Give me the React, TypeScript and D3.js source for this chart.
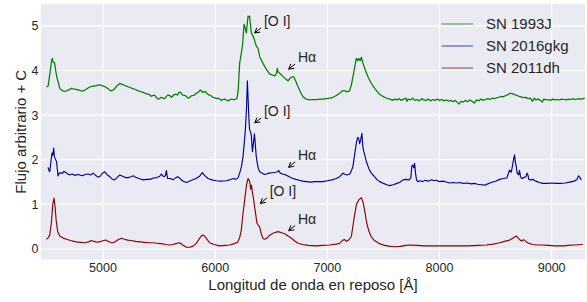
import React from "react";
import * as d3 from "d3";

// ---------- DATA ----------
const xTicks = [5000, 6000, 7000, 8000, 9000];
const yTicks = [0, 1, 2, 3, 4, 5];

const seriesNames = ["SN 1993J", "SN 2016gkg", "SN 2011dh"];
const seriesColors = ["#008000", "#00009c", "#8b0000"];

// SN 1993J (offset +C)
const wave1993J = [
  4496, 4510, 4525, 4540, 4548, 4556, 4568, 4578, 4590, 4603, 4614, 4635, 4659, 4680, 4703, 4720, 4745, 4770, 4800, 4822,
  4850, 4881, 4910, 4940, 4970, 4990, 5015, 5040, 5060, 5075, 5100, 5125, 5149, 5170, 5190, 5208, 5230, 5260, 5283, 5310,
  5335, 5357, 5385,
  5416, 5430, 5445, 5460, 5475, 5490, 5505, 5520, 5535, 5550, 5565, 5580, 5595, 5610, 5622, 5636, 5650, 5662, 5675, 5688,
  5699, 5710, 5720, 5732, 5745, 5760, 5773, 5786, 5800, 5815, 5830, 5843, 5856, 5866, 5877, 5888, 5900, 5912, 5925, 5938,
  5951, 5965, 5980, 5995, 6010, 6025, 6040, 6055, 6070, 6085, 6100, 6115, 6129, 6145, 6160, 6177, 6194,
  6205, 6218, 6233, 6245, 6257, 6268, 6278, 6286,
  6293, 6300, 6307, 6315, 6323, 6346, 6367, 6381, 6397, 6426, 6455, 6486, 6510, 6530, 6545, 6554, 6562, 6575, 6600, 6619,
  6649, 6665, 6679, 6700, 6715, 6738, 6760, 6783, 6810, 6842, 6870, 6900, 6931, 6960, 6990, 7020, 7050, 7080, 7110, 7139,
  7154, 7175, 7199, 7214, 7235, 7258, 7270, 7282, 7292, 7303, 7318, 7340, 7362, 7390, 7422, 7460,
  7500, 7520, 7540, 7560, 7580, 7600, 7620, 7640, 7660, 7680, 7700, 7710, 7720, 7740, 7760, 7780, 7800, 7820, 7840, 7860,
  7880, 7900, 7920, 7940, 7960, 7980, 8000, 8020, 8040, 8060, 8080, 8100, 8120, 8140, 8160, 8175, 8190, 8210, 8230, 8250,
  8270, 8290, 8310, 8330, 8350, 8370, 8390, 8410, 8430, 8450, 8470, 8490, 8510, 8530, 8550, 8570, 8590, 8610, 8630, 8650,
  8670, 8690, 8710, 8730, 8750, 8770, 8790, 8810, 8830, 8845, 8860, 8880, 8900, 8915, 8930, 8950, 8970, 8990, 9010, 9030,
  9050, 9070, 9090, 9110, 9130, 9150, 9170, 9190, 9210, 9230, 9250, 9270, 9294,
];
const flux1993J = [
  3.63, 3.65, 3.9, 4.2, 4.27, 4.18, 4.17, 4.0, 3.83, 3.72, 3.6, 3.55, 3.53, 3.55, 3.58, 3.6, 3.58, 3.57, 3.55, 3.54,
  3.58, 3.63, 3.65, 3.66, 3.68, 3.66, 3.64, 3.6, 3.56, 3.54, 3.58, 3.66, 3.71, 3.69, 3.67, 3.65, 3.63, 3.6, 3.58, 3.55,
  3.53, 3.51, 3.48,
  3.46, 3.42, 3.44, 3.45, 3.4, 3.36, 3.37, 3.4, 3.38, 3.37, 3.42, 3.45, 3.44, 3.4, 3.43, 3.46, 3.47, 3.45, 3.5, 3.52,
  3.48, 3.45, 3.44, 3.44, 3.41, 3.38, 3.4, 3.43, 3.44, 3.45, 3.49, 3.5, 3.53, 3.56, 3.55, 3.51, 3.52, 3.53, 3.49, 3.46,
  3.45, 3.43, 3.4, 3.39, 3.37, 3.38, 3.36, 3.33, 3.35, 3.36, 3.34, 3.32, 3.34, 3.36, 3.35, 3.35, 3.38,
  3.55, 4.16, 4.39, 4.6, 5.04, 4.95, 4.84, 5.05,
  5.22, 5.2, 5.22, 5.0, 4.84, 4.72, 4.54, 4.5, 4.31, 4.16, 4.03, 3.92, 3.9, 3.88, 3.93, 4.05, 3.96, 3.94, 3.88, 3.83,
  3.77, 3.82, 3.85, 3.86, 3.78, 3.64, 3.52, 3.41, 3.36, 3.34, 3.35, 3.35, 3.36, 3.36, 3.37, 3.38, 3.4, 3.44, 3.49, 3.55,
  3.55, 3.52, 3.55, 3.68, 3.95, 4.27, 4.22, 4.27, 4.22, 4.3, 4.16, 4.0, 3.86, 3.72, 3.6, 3.48,
  3.41, 3.39, 3.37, 3.36, 3.33, 3.36, 3.34, 3.37, 3.33, 3.36, 3.38, 3.31, 3.36, 3.34, 3.38, 3.33, 3.35, 3.32, 3.37, 3.34,
  3.33, 3.36, 3.32, 3.35, 3.33, 3.36, 3.33, 3.35, 3.32, 3.34, 3.31, 3.33, 3.3, 3.33, 3.28, 3.25, 3.31, 3.29, 3.33, 3.3,
  3.34, 3.31, 3.27, 3.34, 3.32, 3.36, 3.33, 3.35, 3.37, 3.35, 3.38, 3.37, 3.39, 3.4, 3.42, 3.41, 3.44, 3.46, 3.49, 3.48,
  3.46, 3.44, 3.42, 3.41, 3.39, 3.4, 3.37, 3.38, 3.31, 3.38, 3.34, 3.36, 3.33, 3.29, 3.36, 3.34, 3.35, 3.33, 3.36, 3.34,
  3.35, 3.34, 3.36, 3.35, 3.34, 3.36, 3.35, 3.37, 3.35, 3.36, 3.37, 3.36, 3.38,
];

// SN 2016gkg (offset +C)
const wave2016gkg = [
  4510, 4518, 4525, 4535, 4545, 4552, 4560, 4566, 4575, 4585, 4592, 4599, 4610, 4620, 4635, 4650, 4665, 4680, 4703, 4725,
  4750, 4770, 4792, 4815, 4840, 4866, 4890, 4911, 4930, 4955, 4975, 4995, 5015, 5035, 5060, 5080, 5104, 5125, 5149, 5175,
  5200, 5223, 5250, 5270, 5290, 5320, 5357, 5390, 5420, 5450, 5480, 5505, 5520, 5540, 5556, 5565, 5575, 5600, 5624, 5650,
  5668, 5690, 5715, 5743, 5770, 5800, 5830, 5860, 5886, 5905, 5936, 5970, 6010, 6050, 6100, 6130, 6159, 6185, 6205, 6218,
  6235, 6248, 6260, 6269, 6280, 6287, 6293, 6299, 6306, 6314, 6322, 6332, 6340, 6350, 6356, 6365, 6373, 6385, 6397, 6420,
  6440, 6456, 6480, 6510, 6540, 6556, 6566, 6580, 6600, 6630, 6660, 6693, 6720, 6750, 6780, 6813, 6850, 6890, 6930, 6961,
  7000, 7040, 7080, 7110, 7125, 7139, 7150, 7175, 7200, 7215, 7228, 7245, 7258, 7270, 7279, 7288, 7297, 7308, 7316, 7325,
  7348, 7370, 7392, 7420, 7445, 7466, 7500, 7530, 7555, 7590, 7620, 7644, 7674, 7700, 7730, 7745, 7752, 7762, 7770, 7778,
  7786, 7795, 7807, 7830, 7850, 7870, 7900, 7930, 7950, 7971, 8000, 8030, 8060, 8090, 8120, 8150, 8180, 8210, 8250, 8280,
  8310, 8340, 8370, 8402, 8430, 8460, 8500, 8536, 8570, 8600, 8625, 8640, 8654, 8663, 8669, 8676, 8684, 8692, 8705, 8713,
  8722, 8732, 8750, 8770, 8780, 8788, 8796, 8815, 8835, 8850, 8870, 8890, 8920, 8960, 9000, 9040, 9080, 9120, 9160, 9200,
  9225, 9240, 9252, 9264,
];
const flux2016gkg = [
  1.83, 1.76, 1.73, 1.95, 2.15, 2.1, 2.26, 2.07, 2.02, 1.96, 1.8, 1.64, 1.7, 1.71, 1.69, 1.74, 1.72, 1.69, 1.66, 1.68,
  1.65, 1.67, 1.66, 1.64, 1.67, 1.68, 1.66, 1.7, 1.66, 1.61, 1.63, 1.7, 1.73, 1.67, 1.62, 1.57, 1.55, 1.6, 1.66, 1.63,
  1.6, 1.6, 1.62, 1.64, 1.61, 1.58, 1.55, 1.56, 1.56, 1.59, 1.6, 1.63, 1.68, 1.62, 1.64, 1.76, 1.58, 1.58, 1.55, 1.6,
  1.62, 1.57, 1.52, 1.49, 1.52, 1.55, 1.58, 1.63, 1.71, 1.65, 1.58, 1.55, 1.53, 1.52, 1.53, 1.55, 1.58, 1.56, 1.6, 1.7,
  1.85, 2.07, 2.4, 2.67, 3.2, 3.77, 3.4, 3.0, 2.68, 2.63, 2.55, 2.18, 2.35, 2.58, 2.4, 2.1, 1.95, 1.8, 1.73, 1.7,
  1.67, 1.68, 1.7, 1.71, 1.72, 1.73, 1.76, 1.7, 1.68, 1.66, 1.62, 1.58, 1.56, 1.54, 1.52, 1.51, 1.5, 1.51, 1.51, 1.51,
  1.53, 1.55, 1.58, 1.62, 1.66, 1.7, 1.68, 1.66, 1.68, 1.76, 1.85, 2.15, 2.37, 2.5, 2.48, 2.36, 2.45, 2.59, 2.3, 2.18,
  1.96, 1.8, 1.7, 1.62, 1.55, 1.51, 1.47, 1.44, 1.42, 1.44, 1.47, 1.49, 1.55, 1.56, 1.55, 1.6, 1.85, 1.88, 1.82, 1.92,
  1.7, 1.55, 1.51, 1.53, 1.51, 1.54, 1.52, 1.55, 1.53, 1.54, 1.51, 1.52, 1.5, 1.48, 1.49, 1.48, 1.49, 1.47, 1.48, 1.46,
  1.47, 1.45, 1.44, 1.43, 1.46, 1.49, 1.52, 1.56, 1.58, 1.59, 1.77, 1.72, 1.92, 2.05, 2.11, 1.95, 1.85, 1.7, 1.66, 1.76,
  1.62, 1.58, 1.6, 1.62, 1.7, 1.66, 1.56, 1.55, 1.56, 1.53, 1.51, 1.49, 1.47, 1.47, 1.48, 1.47, 1.47, 1.48, 1.5, 1.52,
  1.56, 1.64, 1.6, 1.55,
];

// SN 2011dh
const wave2011dh = [
  4496, 4510, 4525, 4540, 4552, 4563, 4572, 4582, 4595, 4614, 4640, 4674, 4710, 4740, 4763, 4800, 4840, 4870, 4897, 4920,
  4950, 4980, 5005, 5024, 5050, 5075, 5100, 5130, 5164, 5190, 5220, 5250, 5290, 5330, 5370, 5410, 5446, 5480, 5520, 5560,
  5594, 5620, 5650, 5684, 5710, 5743, 5770, 5800, 5830, 5856, 5880, 5895, 5915, 5950, 5990, 6040, 6090, 6130, 6170, 6200,
  6218, 6233, 6248, 6263, 6280, 6293, 6300, 6308, 6316, 6324, 6330, 6343, 6360, 6372, 6380, 6397, 6412, 6426, 6440, 6460,
  6486, 6520, 6560, 6600, 6620, 6650, 6680, 6710, 6738, 6780, 6830, 6900, 6960, 7020, 7080, 7110, 7139, 7155, 7169, 7190,
  7214, 7240, 7260, 7280, 7303, 7318, 7330, 7350, 7368, 7390, 7420, 7466, 7510, 7560, 7600, 7650, 7700, 7740, 7800, 7860,
  7950, 8050, 8150, 8250, 8350, 8417, 8480, 8536, 8580, 8625, 8660, 8686, 8710, 8730, 8750, 8770, 8795, 8830, 8870, 8920,
  8970, 9030, 9100, 9150, 9200, 9278,
];
const flux2011dh = [
  0.22, 0.25, 0.31, 0.6, 1.0, 1.14, 0.96, 0.65, 0.4, 0.29, 0.25, 0.22, 0.19, 0.17, 0.16, 0.15, 0.14, 0.16, 0.19, 0.17,
  0.15, 0.17, 0.19, 0.2, 0.17, 0.14, 0.15, 0.2, 0.24, 0.22, 0.2, 0.19, 0.17, 0.16, 0.15, 0.14, 0.14, 0.13, 0.12, 0.1,
  0.09, 0.1, 0.12, 0.14, 0.09, 0.04, 0.04, 0.06, 0.12, 0.22, 0.3, 0.31, 0.26, 0.14, 0.1, 0.07, 0.08, 0.09, 0.12, 0.15,
  0.25, 0.43, 0.8, 1.1, 1.45, 1.58, 1.55, 1.51, 1.34, 1.43, 1.3, 1.1, 0.8, 0.58, 0.55, 0.49, 0.33, 0.24, 0.22, 0.24,
  0.31, 0.36, 0.39, 0.36, 0.34, 0.29, 0.24, 0.18, 0.13, 0.1, 0.08, 0.07, 0.08, 0.09, 0.11, 0.13, 0.2, 0.21, 0.17, 0.2,
  0.28, 0.72, 1.0, 1.1, 1.15, 1.05, 0.9, 0.6, 0.42, 0.28, 0.19, 0.12, 0.08, 0.06, 0.05, 0.06, 0.08, 0.09, 0.08, 0.07,
  0.07, 0.07, 0.07, 0.07, 0.08, 0.09, 0.11, 0.14, 0.17, 0.2, 0.25, 0.29, 0.22, 0.18, 0.21, 0.17, 0.13, 0.1, 0.09, 0.09,
  0.08, 0.07, 0.07, 0.08, 0.09, 0.1,
];

// Annotations: label, arrow head (wavelength, flux), text anchor (wavelength, flux)
const annLabels = ["[O I]", "Hα", "[O I]", "Hα", "[O I]", "Hα"];
const annHeadX = [6352, 6655, 6352, 6655, 6403, 6655];
const annHeadY = [4.84, 4.03, 2.83, 1.83, 1.02, 0.41];
const annTextX = [6435, 6738, 6435, 6738, 6486, 6738];
const annTextY = [5.0, 4.19, 2.98, 2.0, 1.19, 0.57];

// ---------- LAYOUT ----------
const W = 587;
const H = 302;
const plot = { left: 41, right: 585, top: 4, bottom: 259.5 };
const FONT = "'Liberation Sans', Arial, sans-serif";
const TEXT = "#262626";
const lineWidths = [1.25, 1.15, 1.15];

export default function App() {
  const x = d3.scaleLinear().domain([4447, 9297]).range([plot.left, plot.right]);
  const y = d3.scaleLinear().domain([-0.235, 5.49]).range([plot.bottom, plot.top]);

  const series = [
    { w: wave1993J, f: flux1993J },
    { w: wave2016gkg, f: flux2016gkg },
    { w: wave2011dh, f: flux2011dh },
  ];

  const line = d3
    .line<[number, number]>()
    .x((d) => x(d[0]))
    .y((d) => y(d[1]));

  const arrows = annLabels.map((label, i) => {
    const hx = x(annHeadX[i]);
    const hy = y(annHeadY[i]);
    const tx = x(annTextX[i]);
    const ty = y(annTextY[i]);
    const sx = tx - 2.8;
    const sy = ty + 2;
    const dx = hx - sx;
    const dy = hy - sy;
    const len = Math.sqrt(dx * dx + dy * dy);
    const ux = dx / len;
    const uy = dy / len;
    const L = 5;
    const Wd = 2.8;
    const bx = hx - ux * L;
    const by = hy - uy * L;
    const p1 = [bx - uy * Wd, by + ux * Wd];
    const p2 = [bx + uy * Wd, by - ux * Wd];
    return { label, hx, hy, tx, ty, sx, sy, p1, p2 };
  });

  return (
    <svg
      width={W}
      height={H}
      style={{ position: "absolute", left: 0, top: 0, background: "#ffffff" }}
      fontFamily={FONT}
    >
      <rect
        x={plot.left}
        y={plot.top}
        width={plot.right - plot.left}
        height={plot.bottom - plot.top}
        fill="#eaeaf2"
      />
      <defs>
        <clipPath id="plotclip">
          <rect
            x={plot.left}
            y={plot.top}
            width={plot.right - plot.left}
            height={plot.bottom - plot.top}
          />
        </clipPath>
      </defs>
      {xTicks.map((t) => (
        <line
          key={"gx" + t}
          x1={x(t)}
          x2={x(t)}
          y1={plot.top}
          y2={plot.bottom}
          stroke="#ffffff"
          strokeWidth={1.1}
        />
      ))}
      {yTicks.map((t) => (
        <line
          key={"gy" + t}
          x1={plot.left}
          x2={plot.right}
          y1={y(t)}
          y2={y(t)}
          stroke="#ffffff"
          strokeWidth={1.1}
        />
      ))}
      <g clipPath="url(#plotclip)">
        {series.map((s, i) => (
          <path
            key={"s" + i}
            d={line(s.w.map((w, j) => [w, s.f[j]] as [number, number])) || ""}
            fill="none"
            stroke={seriesColors[i]}
            strokeWidth={lineWidths[i]}
            strokeLinejoin="round"
          />
        ))}
      </g>
      {xTicks.map((t) => (
        <text key={"tx" + t} x={x(t)} y={272} textAnchor="middle" fontSize={12.5} fill={TEXT}>
          {t}
        </text>
      ))}
      {yTicks.map((t) => (
        <text key={"ty" + t} x={38.5} y={y(t) + 4.4} textAnchor="end" fontSize={12.5} fill={TEXT}>
          {t}
        </text>
      ))}
      <text x={(plot.left + plot.right) / 2} y={290} textAnchor="middle" fontSize={15} fill={TEXT}>
        Longitud de onda en reposo [Å]
      </text>
      <text
        transform={`translate(26,${(plot.top + plot.bottom) / 2}) rotate(-90)`}
        textAnchor="middle"
        fontSize={15}
        fill={TEXT}
      >
        Flujo arbitrario + C
      </text>
      {arrows.map((a, i) => (
        <g key={"a" + i}>
          <line x1={a.sx} y1={a.sy} x2={a.hx} y2={a.hy} stroke="#000" strokeWidth={1} />
          <polyline
            points={`${a.p1[0]},${a.p1[1]} ${a.hx},${a.hy} ${a.p2[0]},${a.p2[1]}`}
            fill="none"
            stroke="#000"
            strokeWidth={1}
          />
          <text x={a.tx} y={a.ty} fontSize={14} fill={TEXT}>
            {a.label}
          </text>
        </g>
      ))}
      {seriesNames.map((n, i) => (
        <g key={"l" + i}>
          <line
            x1={441.5}
            x2={473}
            y1={24 + i * 22}
            y2={24 + i * 22}
            stroke={seriesColors[i]}
            strokeWidth={1}
            strokeOpacity={0.75}
          />
          <text x={486} y={24 + i * 22 + 5.3} fontSize={15} fill={TEXT}>
            {n}
          </text>
        </g>
      ))}
    </svg>
  );
}
